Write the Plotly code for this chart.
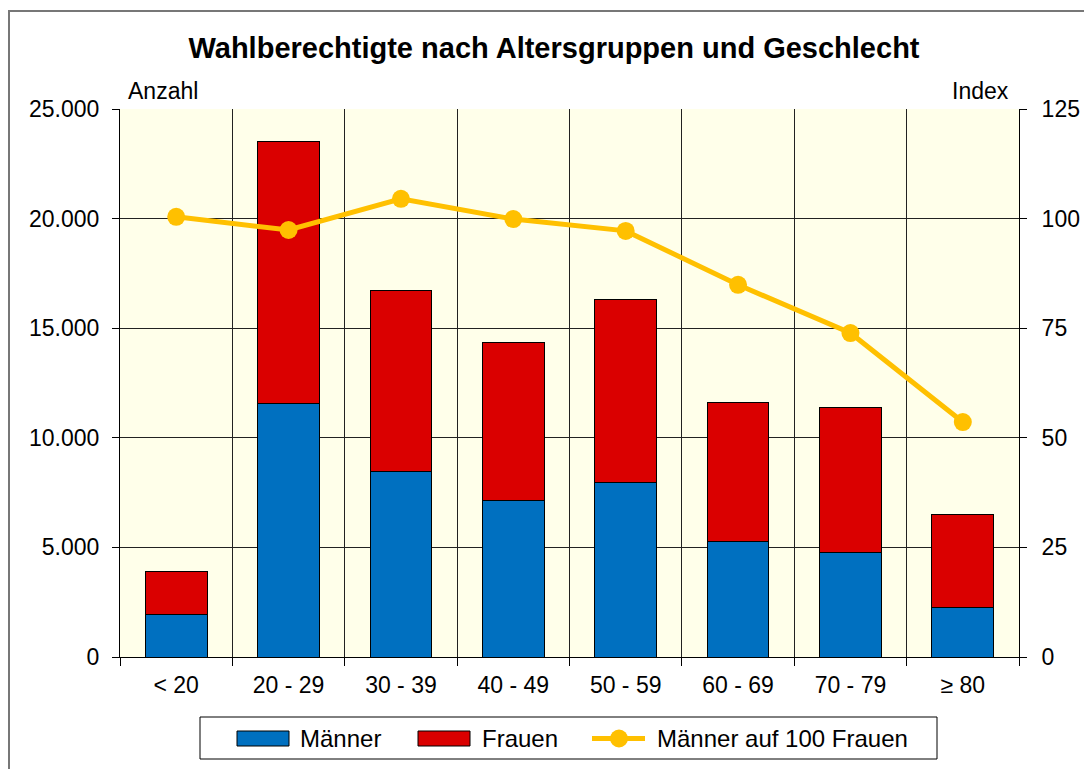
import plotly.graph_objects as go

categories = ["< 20", "20 - 29", "30 - 39", "40 - 49", "50 - 59", "60 - 69", "70 - 79", "≥ 80"]
maenner = [1950, 11550, 8480, 7160, 7980, 5290, 4790, 2240]
gesamt = [3880, 23500, 16700, 14370, 16290, 11590, 11360, 6520]
frauen = [g - m for g, m in zip(gesamt, maenner)]
index_vals = [100.4, 97.4, 104.5, 99.9, 97.2, 84.9, 73.9, 53.6]

left_ticks = [0, 5000, 10000, 15000, 20000, 25000]
left_ticktext = ["0", "5.000", "10.000", "15.000", "20.000", "25.000"]
right_ticks = [0, 25, 50, 75, 100, 125]

xpos = list(range(len(categories)))
FONT = "Liberation Sans, Arial, sans-serif"
BLUE = "#0070C0"
RED = "#DA0000"
GOLD = "#FFC000"

W, H = 1084, 769
# plot area in page pixels
PL, PR, PT, PB = 120, 1019, 109, 657
PW, PH = PR - PL, PB - PT


def px(sx):
    return (sx - PL) / PW


def py(sy):
    return (PB - sy) / PH


fig = go.Figure()
fig.add_trace(go.Bar(x=xpos, y=maenner, name="Männer", marker=dict(color=BLUE, line=dict(color="#000000", width=1)), width=0.55))
fig.add_trace(go.Bar(x=xpos, y=frauen, name="Frauen", marker=dict(color=RED, line=dict(color="#000000", width=1)), width=0.55))
fig.add_trace(go.Scatter(x=xpos, y=index_vals, name="Männer auf 100 Frauen", yaxis="y2", mode="lines+markers",
                         line=dict(color=GOLD, width=5), marker=dict(color=GOLD, size=18)))

fig.update_layout(
    width=W, height=H,
    barmode="stack",
    paper_bgcolor="white",
    plot_bgcolor="#FFFFEA",
    margin=dict(l=PL, r=W - PR, t=PT, b=H - PB, autoexpand=False),
    font=dict(family=FONT, size=23, color="#000000"),
    title=dict(text="<b>Wahlberechtigte nach Altersgruppen und Geschlecht</b>", x=554 / W, xanchor="center",
               y=1 - 48 / H, yanchor="middle", font=dict(size=29, family=FONT)),
    xaxis=dict(range=[-0.5, 7.5], tickvals=xpos, ticktext=categories, ticks="", showgrid=False, automargin=False,
               showline=True, linecolor="#000000", linewidth=1, zeroline=False, ticklabelstandoff=7,
               minor=dict(tickvals=[i - 0.5 for i in range(len(categories) + 1)], ticks="outside", ticklen=8,
                          tickcolor="#000000", showgrid=True, gridcolor="#222222", gridwidth=1),
               tickfont=dict(size=23)),
    yaxis=dict(range=[0, 25000], tickvals=left_ticks, ticktext=left_ticktext, ticks="outside", ticklen=7,
               tickcolor="#000000", showline=True, linecolor="#000000", linewidth=1, ticklabelstandoff=8,
               automargin=False,
               showgrid=True, gridcolor="#222222", gridwidth=1, zeroline=False, tickfont=dict(size=23)),
    yaxis2=dict(range=[0, 125], tickvals=right_ticks, overlaying="y", side="right", ticks="outside", ticklen=7,
                tickcolor="#000000", showline=True, linecolor="#000000", linewidth=1, showgrid=False,
                automargin=False,
                ticklabelstandoff=10, zeroline=False, tickfont=dict(size=23)),
    showlegend=False,
)

fig.add_annotation(text="Anzahl", xref="paper", yref="paper", x=px(126), y=py(91), xanchor="left", yanchor="middle",
                   showarrow=False, font=dict(size=23))
fig.add_annotation(text="Index", xref="paper", yref="paper", x=px(1011), y=py(91), xanchor="right", yanchor="middle",
                   showarrow=False, font=dict(size=23))

# outer chart frame
fig.add_shape(type="rect", xref="paper", yref="paper",
              x0=px(9), x1=px(1110), y0=py(800), y1=py(11),
              line=dict(color="#777777", width=2), fillcolor="rgba(0,0,0,0)", layer="below")

# custom legend
fig.add_shape(type="rect", xref="paper", yref="paper", x0=px(200), x1=px(937), y0=py(759), y1=py(717),
              line=dict(color="#000000", width=1), fillcolor="white")
fig.add_shape(type="rect", xref="paper", yref="paper", x0=px(237), x1=px(289), y0=py(746), y1=py(731),
              line=dict(color="#000000", width=1), fillcolor=BLUE)
fig.add_shape(type="rect", xref="paper", yref="paper", x0=px(418), x1=px(470), y0=py(746), y1=py(731),
              line=dict(color="#000000", width=1), fillcolor=RED)
fig.add_shape(type="line", xref="paper", yref="paper", x0=px(592), x1=px(645), y0=py(738.5), y1=py(738.5),
              line=dict(color=GOLD, width=5))
fig.add_shape(type="circle", xref="paper", yref="paper", x0=px(610), x1=px(628), y0=py(747.5), y1=py(729.5),
              line=dict(color=GOLD, width=0), fillcolor=GOLD)
for label, sx in [("Männer", 298), ("Frauen", 480), ("Männer auf 100 Frauen", 655)]:
    fig.add_annotation(text=label, xref="paper", yref="paper", x=px(sx), y=py(738.5), xanchor="left",
                       yanchor="middle", showarrow=False, font=dict(size=24))

fig.write_html("out.html", config={"displayModeBar": False},
               post_script="document.body.style.margin='0';document.body.style.overflow='hidden';")
